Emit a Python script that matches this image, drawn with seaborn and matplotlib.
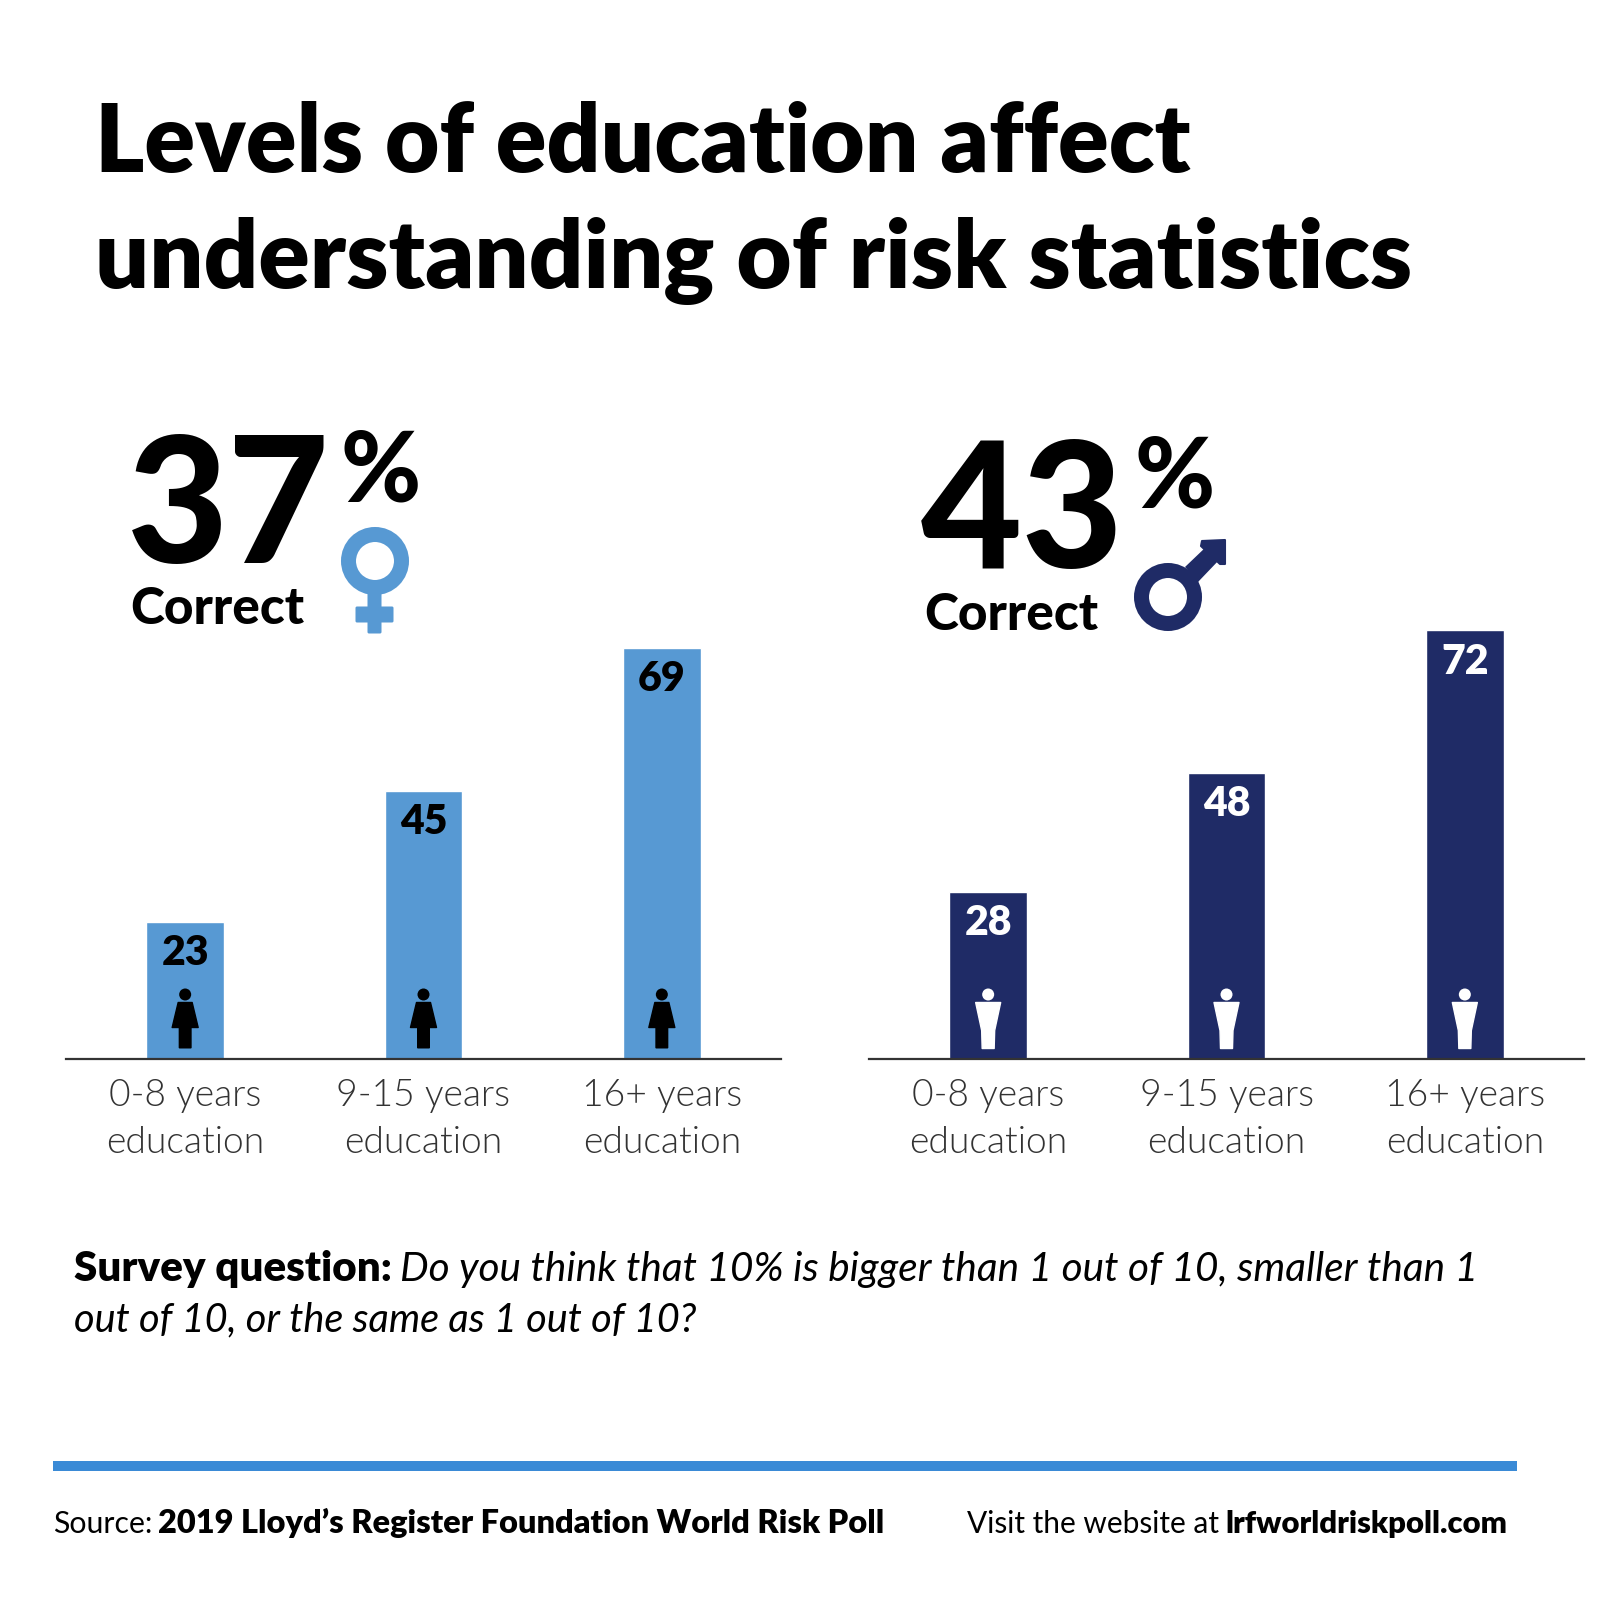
import matplotlib
matplotlib.use('Agg')
import matplotlib.pyplot as plt
from matplotlib.patches import Circle, Polygon, FancyBboxPatch, Rectangle
import seaborn as sns

# data
edu_labels = ['0-8 years\neducation', '9-15 years\neducation', '16+ years\neducation']
women_values = [23, 45, 69]
men_values = [28, 48, 72]
women_total = '37'
men_total = '43'

LIGHT = '#5799D3'
NAVY = '#1F2B66'

sns.set_style('white')
plt.rcParams['font.family'] = ['Lato', 'DejaVu Sans']

fig = plt.figure(figsize=(16, 16), dpi=100, facecolor='white')


def make_panel(left, values, color, text_color):
    ax = fig.add_axes([left / 1600, (1600 - 1058.5) / 1600, 715 / 1600, 476 / 1600])
    sns.barplot(x=edu_labels, y=values, color=color, saturation=1, width=0.325, ax=ax)
    ax.set_xlim(-0.5, 2.5)
    ax.set_ylim(0, 80)
    ax.patch.set_alpha(0)
    sns.despine(ax=ax, left=True)
    ax.spines['bottom'].set_color('#333333')
    ax.spines['bottom'].set_linewidth(1.6)
    ax.set_yticks([])
    ax.tick_params(axis='x', length=0, pad=15)
    for lab in ax.get_xticklabels():
        lab.set_fontsize(26.8)
        lab.set_fontweight(300)
        lab.set_color('#333333')
        lab.set_linespacing(1.47)
    for i, v in enumerate(values):
        ax.text(i, v - 5.3, str(v), ha='center', va='center', fontsize=29.5,
                fontweight=800, color=text_color)
    return ax


ax_w = make_panel(66, women_values, LIGHT, 'black')
ax_m = make_panel(869, men_values, NAVY, 'white')

# overlay in pixel coordinates for headline text and icons
ov = fig.add_axes([0, 0, 1, 1], zorder=5)
ov.set_xlim(0, 1600)
ov.set_ylim(1600, 0)
ov.axis('off')
ov.patch.set_alpha(0)

# title
ov.text(95, 172, 'Levels of education affect', fontsize=67.8, fontweight=800, color='black')
ov.text(95, 288, 'understanding of risk statistics', fontsize=68.7, fontweight=800, color='black')

# big numbers
ov.text(127, 563, women_total, fontsize=126, fontweight='black', color='black')
ov.text(341, 502, '%', fontsize=70, fontweight='black', color='black')
ov.text(130, 624, 'Correct', fontsize=37, fontweight='black', color='black')
ov.text(921, 568, men_total, fontsize=126, fontweight='black', color='black')
ov.text(1135, 507, '%', fontsize=70, fontweight='black', color='black')
ov.text(924, 630, 'Correct', fontsize=37, fontweight='black', color='black')


def venus(color):
    ov.add_patch(Circle((375, 561), 26.5, fc='none', ec=color, lw=15 * 0.72))
    ov.add_patch(FancyBboxPatch((369, 590), 11, 42, boxstyle='round,pad=1.5', fc=color, ec='none'))
    ov.add_patch(FancyBboxPatch((357, 608), 35, 13, boxstyle='round,pad=1.5', fc=color, ec='none'))


def mars(color):
    ov.add_patch(Circle((1168, 597), 26.5, fc='none', ec=color, lw=15 * 0.72))
    ov.add_patch(Polygon([(1185, 567), (1207, 546), (1220, 559), (1198, 582)], fc=color, ec='none'))
    ov.add_patch(Polygon([(1225, 540), (1225, 564), (1220, 564), (1201, 546), (1202, 541)],
                         fc=color, ec=color, lw=1.5, joinstyle='round'))


venus(LIGHT)
mars(NAVY)


def bar_base_px(ax, bar):
    # bar centre on the baseline, in overlay pixels
    x, y = ax.transData.transform((bar.get_x() + bar.get_width() / 2, 0))
    return x, 1600 - y


def woman(cx, base, color):
    ov.add_patch(Circle((cx, base - 64), 6, fc=color, ec='none'))
    ov.add_patch(Polygon([(cx - 7, base - 56), (cx + 7, base - 56), (cx + 13, base - 31), (cx - 13, base - 31)],
                         fc=color, ec=color, lw=1, joinstyle='round'))
    ov.add_patch(FancyBboxPatch((cx - 5.5, base - 36), 11, 25, boxstyle='round,pad=1', fc=color, ec='none'))


def man(cx, base, color):
    ov.add_patch(Circle((cx, base - 64), 6, fc=color, ec='none'))
    ov.add_patch(Polygon([(cx - 12.5, base - 56), (cx + 12.5, base - 56), (cx + 6.5, base - 28),
                          (cx + 6, base - 10), (cx - 6, base - 10), (cx - 6.5, base - 28)],
                         fc=color, ec=color, lw=1, joinstyle='round'))


for bar in ax_w.patches:
    woman(*bar_base_px(ax_w, bar), 'black')
for bar in ax_m.patches:
    man(*bar_base_px(ax_m, bar), 'white')

# survey question
ov.text(74, 1281, 'Survey question:', fontsize=30.3, fontweight=800, color='black')
ov.text(400, 1281, 'Do you think that 10% is bigger than 1 out of 10, smaller than 1',
        fontsize=29.2, style='italic', color='black')
ov.text(74, 1331, 'out of 10, or the same as 1 out of 10?', fontsize=28.65, style='italic', color='black')

# footer
ov.add_patch(Rectangle((53, 1461), 1464, 10, fc='#3A8AD6', ec='none'))
ov.text(53, 1533, 'Source:', fontsize=21.8, color='black')
ov.text(158, 1533, '2019 Lloyd\u2019s Register Foundation World Risk Poll', fontsize=23.4,
        fontweight=800, color='black')
ov.text(967, 1533, 'Visit the website at', fontsize=21.5, color='black')
ov.text(1225, 1533, 'lrfworldriskpoll.com', fontsize=22.3, fontweight=800, color='black')

fig.savefig('out.png', dpi=100)
